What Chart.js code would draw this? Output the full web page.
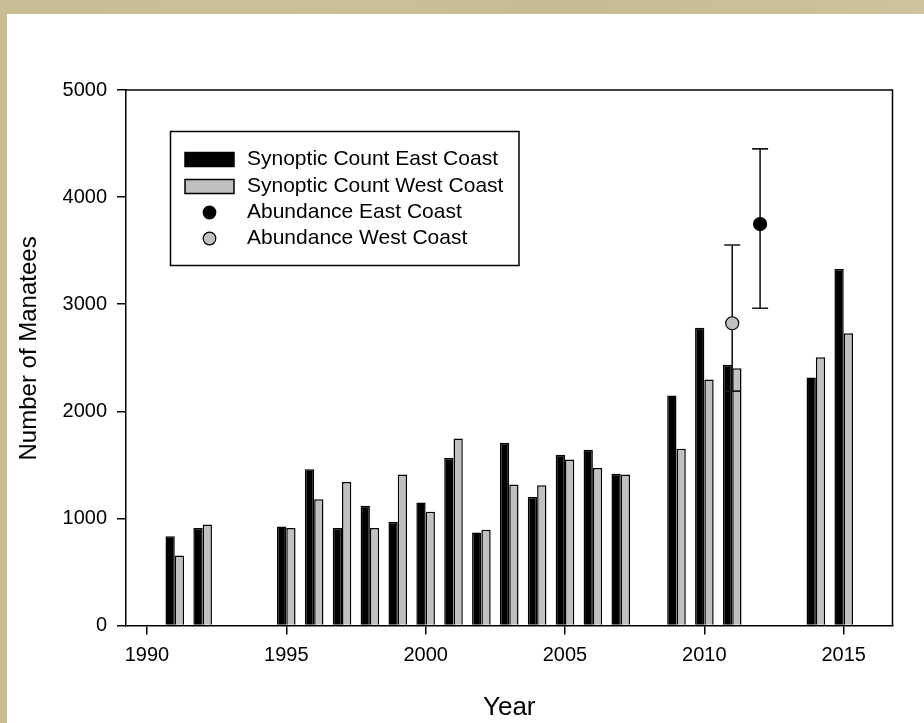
<!DOCTYPE html>
<html>
<head>
<meta charset="utf-8">
<script src="https://cdn.jsdelivr.net/npm/chart.js@4.4.1/dist/chart.umd.min.js"></script>
<style>
  html, body { margin: 0; padding: 0; }
  body { width: 924px; height: 723px; overflow: hidden; position: relative;
         background: linear-gradient(90deg, #c7bc93 0%, #cbc199 35%, #c6bb92 60%, #cdc39c 100%); }
  #white { position: absolute; left: 7px; top: 14px; right: 0; bottom: 0; background: #fff; }
  #c { position: absolute; left: 0; top: 0; }
</style>
</head>
<body>
<div id="white"></div>
<canvas id="c" width="924" height="723"></canvas>
<script>
// ---- data ----
const years = [1991, 1992, 1995, 1996, 1997, 1998, 1999, 2000, 2001, 2002, 2003, 2004, 2005, 2006, 2007, 2009, 2010, 2011, 2014, 2015];
const eastCount = [834, 911, 925, 1458, 911, 1117, 967, 1148, 1564, 869, 1707, 1200, 1595, 1642, 1418, 2148, 2779, 2434, 2316, 3329];
const westCount = [654, 943, 911, 1179, 1340, 911, 1409, 1061, 1745, 893, 1316, 1309, 1549, 1471, 1409, 1651, 2297, 2403, 2505, 2729];

const abundEastYear = [2012];
const abundEast = [3748];
const abundEastLow = [2962];
const abundEastHigh = [4450];

const abundWestYear = [2011];
const abundWest = [2822];
const abundWestLow = [2188];
const abundWestHigh = [3553];

const xTicks = [1990, 1995, 2000, 2005, 2010, 2015];
const yTicks = [0, 1000, 2000, 3000, 4000, 5000];

const labels = ['Synoptic Count East Coast', 'Synoptic Count West Coast', 'Abundance East Coast', 'Abundance West Coast'];

const FONT = "'Liberation Sans', Arial, sans-serif";
const GRAY = '#c0c0c0';

const pts = (xs, ys) => xs.map((x, i) => ({ x: x, y: ys[i] }));

// error bars + frame + legend
const extras = {
  id: 'extras',
  beforeDatasetDraw(chart, args) {
    const ds = chart.data.datasets[args.index];
    if (!ds.errLow) return;
    const xs = chart.scales.x, ys = chart.scales.y, ctx = chart.ctx;
    ctx.save();
    ctx.strokeStyle = '#1a1a1a';
    ctx.lineWidth = 1.6;
    ds.data.forEach((p, i) => {
      const px = xs.getPixelForValue(p.x);
      const lo = ys.getPixelForValue(ds.errLow[i]);
      const hi = ys.getPixelForValue(ds.errHigh[i]);
      ctx.beginPath();
      ctx.moveTo(px, lo); ctx.lineTo(px, hi);
      ctx.moveTo(px - 8, lo); ctx.lineTo(px + 8, lo);
      ctx.moveTo(px - 8, hi); ctx.lineTo(px + 8, hi);
      ctx.stroke();
    });
    ctx.restore();
  },
  afterDraw(chart) {
    const ctx = chart.ctx, a = chart.chartArea;
    ctx.save();
    ctx.strokeStyle = '#000';
    ctx.lineWidth = 1.5;
    ctx.beginPath();
    ctx.moveTo(a.left, a.top); ctx.lineTo(a.right, a.top); ctx.lineTo(a.right, a.bottom);
    ctx.stroke();

    // legend box
    const bx = 170.5, by = 131.5, bw = 348.5, bh = 134;
    ctx.fillStyle = '#fff';
    ctx.fillRect(bx, by, bw, bh);
    ctx.strokeRect(bx, by, bw, bh);
    const rows = [159.5, 186.5, 212.5, 238.5];
    const dsets = chart.data.datasets;
    ctx.font = '21px ' + FONT;
    ctx.textBaseline = 'middle';
    ctx.textAlign = 'left';
    rows.forEach((ry, i) => {
      const d = dsets[i];
      if (d.type === 'bar') {
        ctx.fillStyle = d.backgroundColor;
        ctx.fillRect(185, ry - 7, 49, 14);
        ctx.lineWidth = 1.5;
        ctx.strokeStyle = '#000';
        ctx.strokeRect(185, ry - 7, 49, 14);
      } else {
        ctx.beginPath();
        ctx.arc(209.5, ry, 6.3, 0, Math.PI * 2);
        ctx.fillStyle = d.backgroundColor;
        ctx.fill();
        ctx.lineWidth = 1.2;
        ctx.strokeStyle = '#000';
        ctx.stroke();
      }
      ctx.fillStyle = '#000';
      ctx.fillText(d.label, 247, ry);
    });
    ctx.restore();
  }
};

new Chart(document.getElementById('c'), {
  data: {
    datasets: [
      { type: 'bar', label: labels[0], data: pts(years, eastCount), backgroundColor: '#000', borderColor: '#000', borderWidth: 1.5, order: 1 },
      { type: 'bar', label: labels[1], data: pts(years, westCount), backgroundColor: GRAY, borderColor: '#000', borderWidth: 1.5, order: 1 },
      { type: 'scatter', label: labels[2], data: pts(abundEastYear, abundEast), errLow: abundEastLow, errHigh: abundEastHigh,
        backgroundColor: '#000', borderColor: '#000', borderWidth: 1.2, pointRadius: 6.5, order: 0 },
      { type: 'scatter', label: labels[3], data: pts(abundWestYear, abundWest), errLow: abundWestLow, errHigh: abundWestHigh,
        backgroundColor: GRAY, borderColor: '#000', borderWidth: 1.2, pointRadius: 6.5, order: 0 }
    ]
  },
  options: {
    responsive: false,
    animation: false,
    layout: { padding: { left: 0, right: 31.5, top: 90, bottom: 0 } },
    datasets: { bar: { categoryPercentage: 0.667, barPercentage: 1.0, borderSkipped: 'start' } },
    plugins: { legend: { display: false }, tooltip: { enabled: false } },
    scales: {
      x: {
        type: 'linear', min: 1989.25, max: 2016.75, offset: false,
        afterBuildTicks: s => { s.ticks = xTicks.map(v => ({ value: v })); },
        afterFit: s => { s.height = 97.5; },
        grid: { drawOnChartArea: false, drawTicks: true, tickLength: 9, color: '#000', lineWidth: 1.5, offset: false },
        border: { display: true, color: '#000', width: 1.5 },
        ticks: { color: '#000', font: { family: FONT, size: 20 }, padding: 9, maxRotation: 0, autoSkip: false,
                 callback: v => String(v) },
        title: { display: true, text: 'Year', color: '#000', font: { family: FONT, size: 26 }, padding: { top: 0, bottom: 0 } }
      },
      y: {
        type: 'linear', min: 0, max: 5000,
        afterBuildTicks: s => { s.ticks = yTicks.map(v => ({ value: v })); },
        afterFit: s => { s.width = 126; },
        grid: { drawOnChartArea: false, drawTicks: true, tickLength: 9, color: '#000', lineWidth: 1.5 },
        border: { display: true, color: '#000', width: 1.5 },
        ticks: { color: '#000', font: { family: FONT, size: 20 }, padding: 10, callback: v => String(v) },
        title: { display: true, text: '\u2002\u00a0Number of Manatees', color: '#000', font: { family: FONT, size: 24 }, padding: { top: 14.6, bottom: 0 } }
      }
    }
  },
  plugins: [extras]
});
</script>
</body>
</html>
